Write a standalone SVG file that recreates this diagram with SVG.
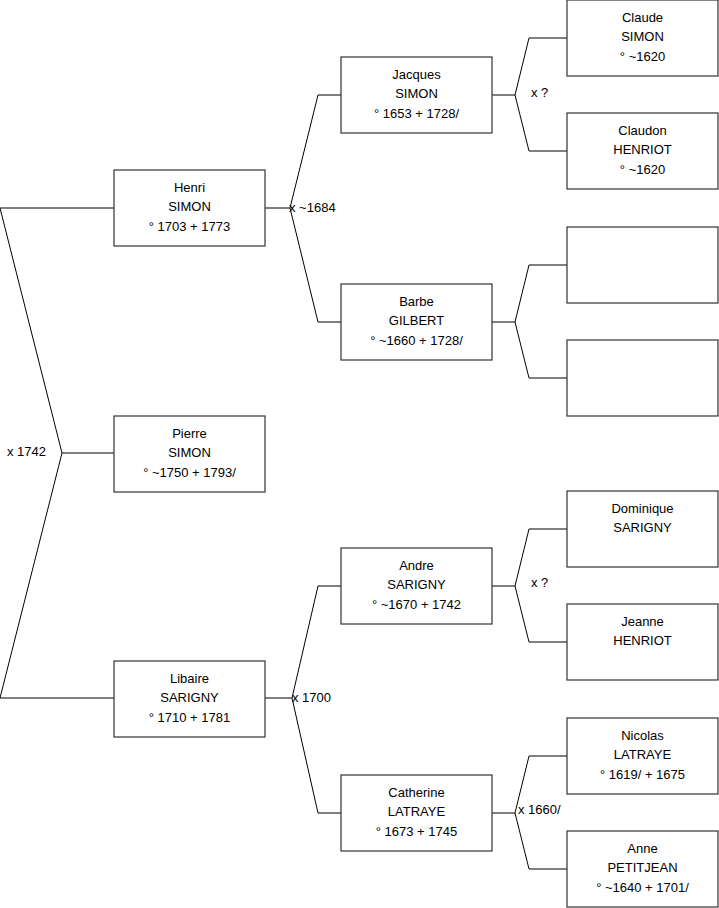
<svg xmlns="http://www.w3.org/2000/svg" width="719" height="908" viewBox="0 0 719 908">
<style>
.box{fill:#fff;stroke:#333;stroke-width:1.2}
.t{font-family:"Liberation Sans",Arial,sans-serif;font-size:13px;fill:#000;text-anchor:middle}
.l{font-family:"Liberation Sans",Arial,sans-serif;font-size:13px;fill:#000}
#connectors path{fill:none;stroke:#000;stroke-width:1}
</style>
<rect width="719" height="908" fill="#fff"/>
<g id="connectors">
<path d="M114,208 H0 L62,453 L0,698 H114 M62,453 H114"/>
<path d="M265,208 H290 L318,95 H341 M290,208 L318,322 H341"/>
<path d="M265,698 H292 L318,586 H341 M292,698 L318,813 H341"/>
<path d="M492,95 H515 L529,38 H567 M515,95 L529,151 H567"/>
<path d="M492,322 H515 L529,265 H567 M515,322 L529,378 H567"/>
<path d="M492,586 H515 L529,529 H567 M515,586 L529,642 H567"/>
<path d="M492,813 H515 L529,756 H567 M515,813 L529,869 H567"/>
</g>
<g id="labels">
<text class="l" x="7" y="456">x 1742</text>
<text class="l" x="289" y="212">x ~1684</text>
<text class="l" x="292" y="702">x 1700</text>
<text class="l" x="531" y="97">x ?</text>
<text class="l" x="531" y="587">x ?</text>
<text class="l" x="518" y="814">x 1660/</text>
</g>
<g id="henri"><rect class="box" x="114" y="170" width="151" height="76"/><text class="t" x="189.5" y="192">Henri</text><text class="t" x="189.5" y="211">SIMON</text><text class="t" x="189.5" y="231">° 1703 + 1773</text></g>
<g id="pierre"><rect class="box" x="114" y="416" width="151" height="76"/><text class="t" x="189.5" y="438">Pierre</text><text class="t" x="189.5" y="457">SIMON</text><text class="t" x="189.5" y="477">° ~1750 + 1793/</text></g>
<g id="libaire"><rect class="box" x="114" y="661" width="151" height="76"/><text class="t" x="189.5" y="683">Libaire</text><text class="t" x="189.5" y="702">SARIGNY</text><text class="t" x="189.5" y="722">° 1710 + 1781</text></g>
<g id="jacques"><rect class="box" x="341" y="57" width="151" height="76"/><text class="t" x="416.5" y="79">Jacques</text><text class="t" x="416.5" y="98">SIMON</text><text class="t" x="416.5" y="118">° 1653 + 1728/</text></g>
<g id="barbe"><rect class="box" x="341" y="284" width="151" height="76"/><text class="t" x="416.5" y="306">Barbe</text><text class="t" x="416.5" y="325">GILBERT</text><text class="t" x="416.5" y="345">° ~1660 + 1728/</text></g>
<g id="andre"><rect class="box" x="341" y="548" width="151" height="76"/><text class="t" x="416.5" y="570">Andre</text><text class="t" x="416.5" y="589">SARIGNY</text><text class="t" x="416.5" y="609">° ~1670 + 1742</text></g>
<g id="catherine"><rect class="box" x="341" y="775" width="151" height="76"/><text class="t" x="416.5" y="797">Catherine</text><text class="t" x="416.5" y="816">LATRAYE</text><text class="t" x="416.5" y="836">° 1673 + 1745</text></g>
<g id="claude"><rect class="box" x="567" y="0" width="151" height="76"/><text class="t" x="642.5" y="22">Claude</text><text class="t" x="642.5" y="41">SIMON</text><text class="t" x="642.5" y="61">° ~1620</text></g>
<g id="claudon"><rect class="box" x="567" y="113" width="151" height="76"/><text class="t" x="642.5" y="135">Claudon</text><text class="t" x="642.5" y="154">HENRIOT</text><text class="t" x="642.5" y="174">° ~1620</text></g>
<g id="blank1"><rect class="box" x="567" y="227" width="151" height="76"/></g>
<g id="blank2"><rect class="box" x="567" y="340" width="151" height="76"/></g>
<g id="dominique"><rect class="box" x="567" y="491" width="151" height="76"/><text class="t" x="642.5" y="513">Dominique</text><text class="t" x="642.5" y="532">SARIGNY</text></g>
<g id="jeanne"><rect class="box" x="567" y="604" width="151" height="76"/><text class="t" x="642.5" y="626">Jeanne</text><text class="t" x="642.5" y="645">HENRIOT</text></g>
<g id="nicolas"><rect class="box" x="567" y="718" width="151" height="76"/><text class="t" x="642.5" y="740">Nicolas</text><text class="t" x="642.5" y="759">LATRAYE</text><text class="t" x="642.5" y="779">° 1619/ + 1675</text></g>
<g id="anne"><rect class="box" x="567" y="831" width="151" height="76"/><text class="t" x="642.5" y="853">Anne</text><text class="t" x="642.5" y="872">PETITJEAN</text><text class="t" x="642.5" y="892">° ~1640 + 1701/</text></g>
</svg>
